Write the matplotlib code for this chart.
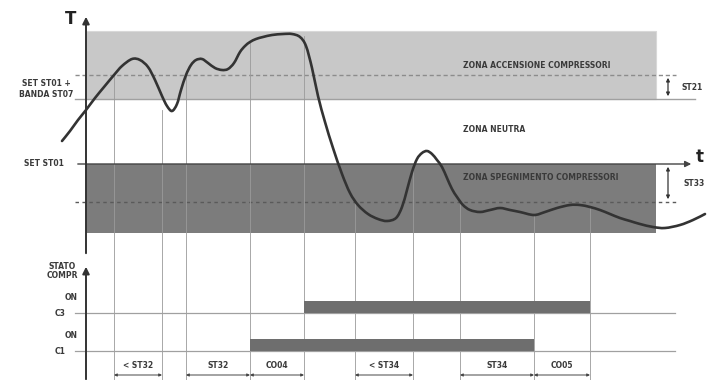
import matplotlib
matplotlib.use("Agg")
from matplotlib import pyplot as plt
from matplotlib import patches
from matplotlib.path import Path

# all values are in picture units (x to the right, y downwards)
curve_x = [62, 70, 78, 86, 95, 104, 114, 122, 132, 140, 148, 155, 162, 167, 172, 177, 181, 186,
           191, 196, 202, 208, 215, 222, 228, 234, 240, 245, 250, 256, 263, 272, 283, 292, 300,
           306, 312, 318, 325, 333, 342, 350, 358, 368, 378, 387, 396, 402,
           407, 412, 417, 422, 427, 432, 437, 442, 447, 452, 457, 463, 470, 480, 490, 500,
           510, 520, 534, 545, 557, 570, 580, 590, 600, 610, 620, 630, 640, 653, 665, 680, 693, 705]
curve_y = [141, 131, 120, 110, 98, 87, 75, 66, 59, 60, 67, 80, 96, 106, 111, 104, 90, 75,
           65, 60, 59, 63, 68, 70, 69, 63, 52, 46, 42, 39, 37, 35, 34, 34, 37,
           46, 68, 96, 122, 148, 174, 193, 205, 214, 219, 221, 218, 207,
           190, 172, 159, 153, 151, 154, 160, 167, 178, 189, 197, 205, 210, 212, 210, 208,
           210, 212, 215, 212, 208, 205, 205, 207, 210, 214, 218, 221, 224, 227, 228, 225, 220, 214]

event_x = [114, 162, 186, 250, 304, 355, 413, 460, 534, 590]
event_top = [75, 110, 75, 42, 36, 202, 167, 202, 215, 207]

c3_on = (304, 590)
c1_on = (250, 534)

span_labels = ["< ST32", "ST32", "CO04", "< ST34", "ST34", "CO05"]
span_start = [114, 186, 250, 355, 460, 534]
span_end = [162, 250, 304, 413, 534, 590]

x0, x1 = 86, 656          # zone extent
on_zone = (31, 99)         # ZONA ACCENSIONE
off_zone = (164, 233)      # ZONA SPEGNIMENTO
diff_on, diff_off = 75, 202
c3_line, c1_line = 313, 351
bar_h = 12

txt = dict(fontsize=5.5, fontweight='bold', color='#3a3a3a')


def smooth_path(xs, ys):
    # cubic bezier through the read points (catmull-rom tangents)
    pts = list(zip(xs, ys))
    verts = [pts[0]]
    codes = [Path.MOVETO]
    n = len(pts)
    for i in range(n - 1):
        p0 = pts[max(i - 1, 0)]
        p1 = pts[i]
        p2 = pts[i + 1]
        p3 = pts[min(i + 2, n - 1)]
        c1 = (p1[0] + (p2[0] - p0[0]) / 6, p1[1] + (p2[1] - p0[1]) / 6)
        c2 = (p2[0] - (p3[0] - p1[0]) / 6, p2[1] - (p3[1] - p1[1]) / 6)
        verts += [c1, c2, p2]
        codes += [Path.CURVE4] * 3
    return Path(verts, codes)


fig = plt.figure(figsize=(7.07, 3.8), dpi=100)
ax = fig.add_axes([0, 0, 1, 1])
ax.set_xlim(0, 707)
ax.set_ylim(380, 0)
ax.axis('off')

# zones
ax.add_patch(patches.Rectangle((x0, on_zone[0]), x1 - x0, on_zone[1] - on_zone[0],
                               facecolor='#c8c8c8', edgecolor='#d8d8d8', lw=0.8, zorder=1))
ax.add_patch(patches.Rectangle((x0, off_zone[0]), x1 - x0, off_zone[1] - off_zone[0],
                               facecolor='#7c7c7c', edgecolor='none', zorder=1))
ax.plot([75, 695], [on_zone[1], on_zone[1]], color='#a0a0a0', lw=1.0, zorder=2)
ax.plot([75, 676], [diff_on, diff_on], color='#8c8c8c', lw=1.0, ls=(0, (3, 2)), zorder=2)
ax.plot([75, 676], [diff_off, diff_off], color='#5a5a5a', lw=1.0, ls=(0, (2.5, 2.5)), zorder=2)

# time axis (on the SET line)
ax.annotate('', xy=(694, off_zone[0]), xytext=(75, off_zone[0]),
            arrowprops=dict(arrowstyle='-|>', color='#444444', lw=1.0, mutation_scale=9), zorder=3)
ax.text(700, 157, 't', fontsize=12, fontweight='bold', color='#222222', ha='center', va='center')

# temperature axis
ax.annotate('', xy=(86, 14), xytext=(86, 256),
            arrowprops=dict(arrowstyle='-|>', color='#333333', lw=1.4, mutation_scale=10), zorder=4)
ax.text(71, 19, 'T', fontsize=12, fontweight='bold', color='#222222', ha='center', va='center')

# event lines
for ex, et in zip(event_x, event_top):
    ax.plot([ex, ex], [et, 382], color='#9a9a9a', lw=0.6, zorder=2)

# temperature curve
ax.add_patch(patches.PathPatch(smooth_path(curve_x, curve_y), facecolor='none',
                               edgecolor='#333333', lw=1.9, capstyle='round', zorder=5))

# differential markers
for ya, yb in [(diff_on, on_zone[1]), (off_zone[0], diff_off)]:
    ax.annotate('', xy=(668, yb), xytext=(668, ya),
                arrowprops=dict(arrowstyle='<|-|>', color='#333333', lw=0.9, mutation_scale=5))
ax.text(681, 88, 'ST21', ha='left', va='center', **txt)
ax.text(683, 184, 'ST33', ha='left', va='center', **txt)

# zone texts
ax.text(463, 66, 'ZONA ACCENSIONE COMPRESSORI', ha='left', va='center', **txt)
ax.text(463, 130, 'ZONA NEUTRA', ha='left', va='center', **txt)
ax.text(463, 178, 'ZONA SPEGNIMENTO COMPRESSORI', ha='left', va='center', **txt)
ax.text(46, 89, 'SET ST01 +\nBANDA ST07', ha='center', va='center', linespacing=1.2, **txt)
ax.text(44, 164, 'SET ST01', ha='center', va='center', **txt)

# compressor state axis
ax.annotate('', xy=(86, 264), xytext=(86, 382),
            arrowprops=dict(arrowstyle='-|>', color='#333333', lw=1.4, mutation_scale=10), zorder=4)
ax.text(62, 271, 'STATO\nCOMPR', ha='center', va='center', linespacing=1.1, **txt)
ax.text(78, 298, 'ON', ha='right', va='center', **txt)
ax.text(60, 313, 'C3', ha='center', va='center', **txt)
ax.text(78, 336, 'ON', ha='right', va='center', **txt)
ax.text(60, 351, 'C1', ha='center', va='center', **txt)
for yl in (c3_line, c1_line):
    ax.plot([75, 675], [yl, yl], color='#a0a0a0', lw=0.9, zorder=2)
ax.add_patch(patches.Rectangle((c3_on[0], c3_line - bar_h), c3_on[1] - c3_on[0], bar_h,
                               facecolor='#6e6e6e', edgecolor='none', zorder=3))
ax.add_patch(patches.Rectangle((c1_on[0], c1_line - bar_h), c1_on[1] - c1_on[0], bar_h,
                               facecolor='#6e6e6e', edgecolor='none', zorder=3))

# time spans
for lab, s, e in zip(span_labels, span_start, span_end):
    ax.annotate('', xy=(e, 375), xytext=(s, 375),
                arrowprops=dict(arrowstyle='<|-|>', color='#444444', lw=0.7, mutation_scale=4,
                                shrinkA=0, shrinkB=0))
    ax.text((s + e) / 2, 366, lab, ha='center', va='center', **txt)

fig.savefig('out.png', dpi=100)
